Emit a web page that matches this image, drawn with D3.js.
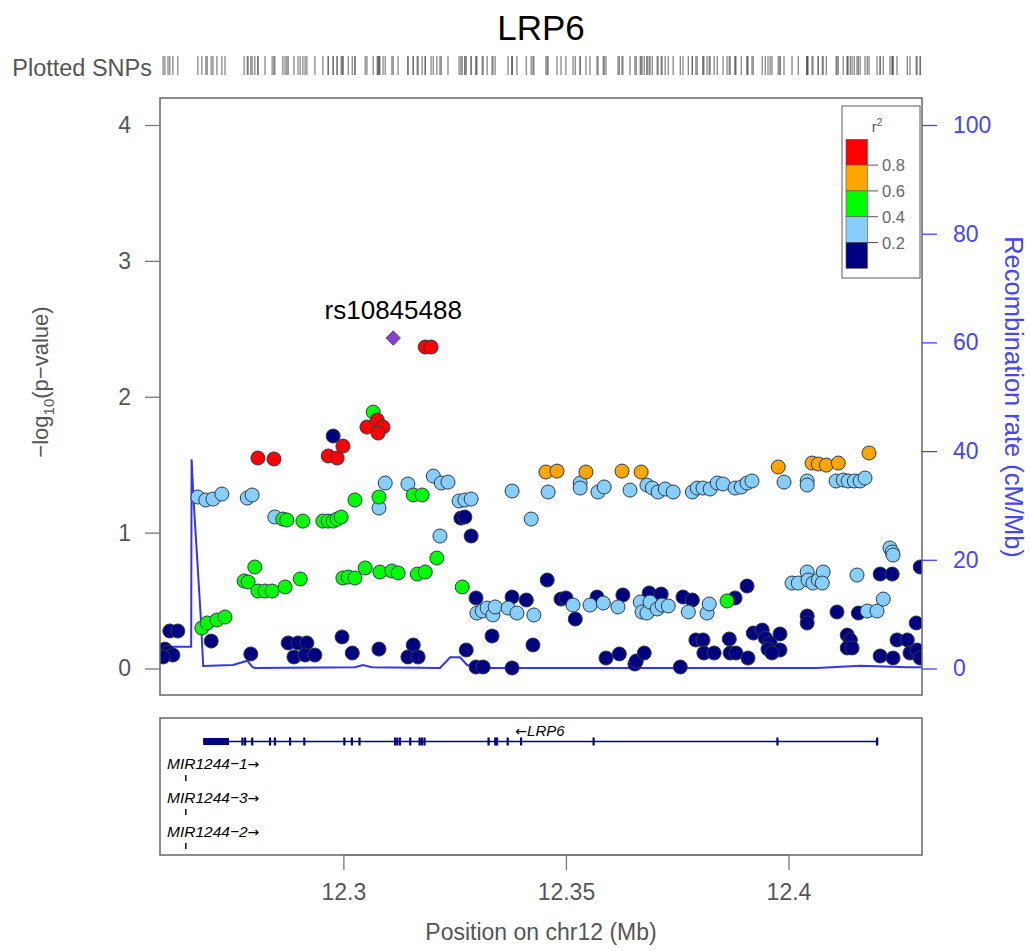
<!DOCTYPE html>
<html>
<head>
<meta charset="utf-8">
<script src="https://cdn.jsdelivr.net/npm/d3@7"></script>
<style>
  body { margin: 0; background: #fff; }
  svg { font-family: "Liberation Sans", Arial, sans-serif; }
</style>
</head>
<body>
<div id="chart"></div>
<script>
// SNPs binned by r2 with the index SNP, [position (Mb), -log10 p]
let ldNavy = [
  [12.2599,0.143],[12.2610,0.276],[12.2628,0.276],[12.2606,0.121],[12.2617,0.099],[12.2595,0.085],
  [12.2703,0.202],[12.2792,0.107],[12.2876,0.188],[12.2898,0.188],[12.2918,0.188],[12.2889,0.085],
  [12.2914,0.099],[12.2936,0.099],[12.2997,0.232],[12.3020,0.114],[12.3080,0.143],[12.3157,0.173],
  [12.3145,0.085],[12.3168,0.085],[12.2977,1.711],[12.3264,1.107],[12.3273,1.115],[12.3287,0.975],
  [12.3298,0.519],[12.3379,0.526],[12.3411,0.504],[12.3458,0.651],[12.3489,0.511],[12.3500,0.519],
  [12.3570,0.526],[12.3628,0.541],[12.3687,0.556],[12.3714,0.548],[12.3763,0.526],[12.3784,0.504],
  [12.3880,0.519],[12.3521,0.364],[12.3334,0.239],[12.3426,0.173],[12.3276,0.136],[12.3298,0.011],
  [12.3314,0.011],[12.3379,0.004],[12.3590,0.077],[12.3620,0.107],[12.3655,0.033],[12.3658,0.055],
  [12.3676,0.114],[12.3757,0.011],[12.3792,0.210],[12.3808,0.210],[12.3810,0.114],[12.3833,0.114],
  [12.3867,0.217],[12.3869,0.114],[12.3882,0.114],[12.3907,0.607],[12.4206,0.695],[12.4233,0.695],
  [12.4296,0.747],[12.4042,0.386],[12.4042,0.335],[12.4109,0.416],[12.4157,0.408],[12.4287,0.335],
  [12.3921,0.261],[12.3941,0.283],[12.3948,0.224],[12.3959,0.188],[12.3981,0.254],[12.3981,0.136],
  [12.3909,0.077],[12.3954,0.143],[12.3963,0.114],[12.4132,0.246],[12.4139,0.210],[12.4132,0.151],
  [12.4143,0.151],[12.4206,0.092],[12.4235,0.077],[12.4244,0.210],[12.4267,0.210],[12.4273,0.114],
  [12.4289,0.136],[12.4296,0.077]
]
let ldLightBlue = [
  [12.2673,1.262],[12.2691,1.240],[12.2707,1.247],[12.2727,1.284],[12.2784,1.255],[12.2795,1.277],
  [12.2846,1.115],[12.3094,1.365],[12.3080,1.181],[12.3145,1.358],[12.3202,1.416],[12.3220,1.365],
  [12.3235,1.372],[12.3217,0.975],[12.3260,1.233],[12.3273,1.240],[12.3287,1.247],[12.3379,1.306],
  [12.3460,1.299],[12.3532,1.365],[12.3532,1.328],[12.3572,1.299],[12.3586,1.336],[12.3644,1.313],
  [12.3682,1.350],[12.3694,1.328],[12.3707,1.299],[12.3723,1.321],[12.3741,1.299],[12.3784,1.299],
  [12.3795,1.328],[12.3808,1.328],[12.3824,1.321],[12.3840,1.365],[12.3853,1.358],[12.3880,1.328],
  [12.3894,1.336],[12.3907,1.365],[12.3918,1.380],[12.3990,1.372],[12.4042,1.380],[12.4042,1.350],
  [12.4107,1.380],[12.4123,1.387],[12.4134,1.380],[12.4148,1.380],[12.4161,1.380],[12.4172,1.402],
  [12.3422,1.100],[12.3300,0.408],[12.3312,0.423],[12.3323,0.445],[12.3336,0.394],[12.3341,0.453],
  [12.3370,0.445],[12.3390,0.408],[12.3428,0.394],[12.3516,0.467],[12.3554,0.467],[12.3584,0.482],
  [12.3617,0.453],[12.3667,0.489],[12.3671,0.416],[12.3682,0.408],[12.3689,0.489],[12.3705,0.438],
  [12.3716,0.467],[12.3730,0.460],[12.3775,0.416],[12.3817,0.408],[12.3822,0.475],[12.4228,0.887],
  [12.4233,0.857],[12.4235,0.835],[12.4008,0.629],[12.4022,0.629],[12.4042,0.710],[12.4044,0.651],
  [12.4055,0.629],[12.4067,0.651],[12.4078,0.710],[12.4076,0.629],[12.4154,0.688],[12.4177,0.423],
  [12.4199,0.423],[12.4213,0.511]
]
let ldGreen = [
  [12.2682,0.298],[12.2694,0.335],[12.2716,0.357],[12.2734,0.379],[12.2777,0.644],[12.2786,0.637],
  [12.2801,0.747],[12.2808,0.570],[12.2824,0.570],[12.2840,0.570],[12.2869,0.600],[12.2903,0.659],
  [12.2864,1.100],[12.2873,1.093],[12.2909,1.085],[12.2954,1.085],[12.2966,1.085],[12.2977,1.085],
  [12.2986,1.100],[12.2995,1.115],[12.3026,1.240],[12.3080,1.262],[12.3157,1.277],[12.3177,1.277],
  [12.2999,0.666],[12.3011,0.673],[12.3026,0.666],[12.3049,0.740],[12.3082,0.710],[12.3109,0.718],
  [12.3123,0.703],[12.3166,0.695],[12.3184,0.710],[12.3210,0.813],[12.3067,1.887],[12.3267,0.600],
  [12.3862,0.497]
]
let ldOrange = [
  [12.3455,1.446],[12.3480,1.453],[12.3545,1.446],[12.3626,1.453],[12.3669,1.446],[12.3977,1.483],
  [12.4053,1.512],[12.4067,1.505],[12.4085,1.497],[12.4112,1.512],[12.4181,1.586]
]
let ldRed = [
  [12.2808,1.549],[12.2844,1.542],[12.2966,1.564],[12.2986,1.549],[12.2999,1.637],[12.3053,1.777],
  [12.3076,1.829],[12.3089,1.777],[12.3078,1.733],[12.3184,2.366],[12.3197,2.366]
]
let indexSnp = { name: "rs10845488", pos: 12.3112, logp: 2.432 }

// recombination rate (cM/Mb)
let recombPos  = [12.2588,12.2658,12.2659,12.2663,12.2680,12.2685,12.2752,12.2784,12.2795,12.2801,
                  12.3026,12.3044,12.3064,12.3217,12.3240,12.3262,12.3278,12.3314,12.4064,12.4161,12.4267,12.4300]
let recombRate = [4.0,4.0,38.5,31.6,8.9,0.46,0.64,1.44,0.33,0.09,
                  0.22,0.64,0.22,0.09,2.06,2.06,0.64,0.09,0.09,0.52,0.22,0.22]

// genes
let lrp6Span = [12.2685, 12.4199]
let lrp6Utr = [12.2685, 12.2743]
let lrp6Exons = [12.2773,12.2779,12.2795,12.2835,12.2846,12.2880,12.2912,12.3002,12.3019,12.3036,
                 12.3116,12.3121,12.3127,12.3150,12.3171,12.3176,12.3182,12.3326,12.3341,12.3345,
                 12.3369,12.3399,12.3562,12.3975,12.4199]
let mirGenes = ["MIR1244\u22121", "MIR1244\u22123", "MIR1244\u22122"]
let mirPos = 12.2646

let ldBreaks = ["0.8", "0.6", "0.4", "0.2"]
let ldColors = ["#ff0000", "#ffa500", "#00ff00", "#87cefa", "#000080"]
let xTicks = [12.3, 12.35, 12.4]
let yTicks = [0, 1, 2, 3, 4]
let rTicks = [0, 20, 40, 60, 80, 100]

const W = 1029, H = 951
const plot = { left: 160, right: 922, top: 98, bottom: 695 }
const genes = { top: 718, bottom: 855 }
const grey = "#555"
const blue = "#4646f5"

let svg = d3.select("#chart").append("svg")
    .attr("width", W)
    .attr("height", H)

let x = d3.scaleLinear().domain([12.2588, 12.4300]).range([plot.left, plot.right])
let y = d3.scaleLinear().domain([0, 4]).range([668.5, 125])
let yr = d3.scaleLinear().domain([0, 100]).range([668.5, 125])

// title
svg.append("text")
    .attr("x", 541).attr("y", 40)
    .attr("text-anchor", "middle")
    .style("font-size", "35px")
    .text("LRP6")

// rug of plotted SNPs
svg.append("text")
    .attr("x", 152).attr("y", 76)
    .attr("text-anchor", "end")
    .attr("fill", grey)
    .style("font-size", "23.5px")
    .text("Plotted SNPs")

let allSnps = [].concat(ldNavy, ldLightBlue, ldGreen, ldOrange, ldRed, [[indexSnp.pos, indexSnp.logp]])

svg.append("g").selectAll("line")
    .data(allSnps)
    .enter()
    .append("line")
    .attr("x1", d => x(d[0])).attr("x2", d => x(d[0]))
    .attr("y1", 56).attr("y2", 75)
    .attr("stroke", "#555")
    .attr("stroke-opacity", 0.7)
    .attr("stroke-width", 1.3)

// clip for main panel
svg.append("clipPath").attr("id", "clip")
    .append("rect")
    .attr("x", plot.left).attr("y", plot.top)
    .attr("width", plot.right - plot.left).attr("height", plot.bottom - plot.top)

// recombination line (under the points)
let recomb = recombPos.map((p, i) => [p, recombRate[i]])
svg.append("path")
    .datum(recomb)
    .attr("clip-path", "url(#clip)")
    .attr("fill", "none")
    .attr("stroke", "#3535f0")
    .attr("stroke-width", 2)
    .attr("d", d3.line().x(d => x(d[0])).y(d => yr(d[1])))

// points
let bins = [ldNavy, ldLightBlue, ldGreen, ldOrange, ldRed]
let binColors = ["#000080", "#87cefa", "#00ff00", "#ffa500", "#ff0000"]
let pts = svg.append("g").attr("clip-path", "url(#clip)")
bins.forEach((bin, i) => {
    pts.selectAll("circle.b" + i)
        .data(bin)
        .enter()
        .append("circle")
        .attr("class", "b" + i)
        .attr("cx", d => x(d[0]))
        .attr("cy", d => y(d[1]))
        .attr("r", 7)
        .attr("fill", binColors[i])
        .attr("stroke", "#2b3a4a")
        .attr("stroke-width", 1)
})

pts.append("path")
    .attr("d", d3.symbol(d3.symbolSquare, 105)())
    .attr("transform", "translate(" + x(indexSnp.pos) + "," + y(indexSnp.logp) + ") rotate(45)")
    .attr("fill", "#8a3fd6")
    .attr("stroke", "#444")
    .attr("stroke-width", 0.8)

svg.append("text")
    .attr("x", x(indexSnp.pos)).attr("y", y(indexSnp.logp) - 19)
    .attr("text-anchor", "middle")
    .style("font-size", "26px")
    .text(indexSnp.name)

// panel frame
svg.append("rect")
    .attr("x", plot.left).attr("y", plot.top)
    .attr("width", plot.right - plot.left).attr("height", plot.bottom - plot.top)
    .attr("fill", "none").attr("stroke", "#666").attr("stroke-width", 1.5)

// left axis
let yAxis = svg.append("g")
    .attr("transform", "translate(" + plot.left + ",0)")
    .call(d3.axisLeft(y).tickValues(yTicks).tickFormat(d3.format("d")).tickSize(15).tickPadding(14))
yAxis.select(".domain").remove()
yAxis.selectAll("line").attr("stroke", "#777").attr("stroke-width", 1.3)
yAxis.selectAll("text").attr("fill", grey).style("font-size", "23px")

svg.append("text")
    .attr("transform", "translate(48,382) rotate(-90)")
    .attr("text-anchor", "middle")
    .attr("fill", grey)
    .style("font-size", "22px")
    .html("\u2212log<tspan dy='6' font-size='15px'>10</tspan><tspan dy='-6'>(p\u2212value)</tspan>")

// right axis
let rAxis = svg.append("g")
    .attr("transform", "translate(" + plot.right + ",0)")
    .call(d3.axisRight(yr).tickValues(rTicks).tickSize(15).tickPadding(16))
rAxis.select(".domain").remove()
rAxis.selectAll("line").attr("stroke", blue).attr("stroke-width", 1.3)
rAxis.selectAll("text").attr("fill", blue).style("font-size", "23px")

svg.append("text")
    .attr("transform", "translate(1005,397) rotate(90)")
    .attr("text-anchor", "middle")
    .attr("fill", blue)
    .style("font-size", "25.5px")
    .text("Recombination rate (cM/Mb)")

// legend
let lg = svg.append("g")
lg.append("rect")
    .attr("x", 842).attr("y", 106).attr("width", 78).attr("height", 172)
    .attr("fill", "#fff").attr("stroke", "#777").attr("stroke-width", 1.2)
lg.append("text")
    .attr("x", 877).attr("y", 132)
    .attr("text-anchor", "middle").attr("fill", grey)
    .style("font-size", "15px")
    .html("r<tspan dy='-6' font-size='10px'>2</tspan>")
let bandH = 25.8
lg.selectAll("rect.band")
    .data(ldColors)
    .enter()
    .append("rect")
    .attr("class", "band")
    .attr("x", 846).attr("y", (d, i) => 139.3 + i * bandH)
    .attr("width", 21.5).attr("height", bandH)
    .attr("fill", d => d)
    .attr("stroke", "#555").attr("stroke-width", 0.6)
lg.selectAll("line.lt")
    .data(ldBreaks)
    .enter()
    .append("line")
    .attr("class", "lt")
    .attr("x1", 867.5).attr("x2", 878)
    .attr("y1", (d, i) => 139.3 + (i + 1) * bandH)
    .attr("y2", (d, i) => 139.3 + (i + 1) * bandH)
    .attr("stroke", "#555").attr("stroke-width", 1)
lg.selectAll("text.lv")
    .data(ldBreaks)
    .enter()
    .append("text")
    .attr("class", "lv")
    .attr("x", 882).attr("y", (d, i) => 139.3 + (i + 1) * bandH + 6)
    .attr("fill", "#666")
    .style("font-size", "16.5px")
    .text(d => d)

// gene panel
svg.append("rect")
    .attr("x", plot.left).attr("y", genes.top)
    .attr("width", plot.right - plot.left).attr("height", genes.bottom - genes.top)
    .attr("fill", "none").attr("stroke", "#666").attr("stroke-width", 1.5)

let geneY = 741.5
let gcol = "#000080"
svg.append("line")
    .attr("x1", x(lrp6Span[0])).attr("x2", x(lrp6Span[1]))
    .attr("y1", geneY).attr("y2", geneY)
    .attr("stroke", gcol).attr("stroke-width", 1.5)
svg.append("rect")
    .attr("x", x(lrp6Utr[0])).attr("y", geneY - 3.5)
    .attr("width", x(lrp6Utr[1]) - x(lrp6Utr[0])).attr("height", 7)
    .attr("fill", gcol)
svg.selectAll("rect.exon")
    .data(lrp6Exons)
    .enter()
    .append("rect")
    .attr("class", "exon")
    .attr("x", d => x(d) - 1).attr("y", geneY - 4)
    .attr("width", 2.2).attr("height", 8)
    .attr("fill", gcol)
svg.append("text")
    .attr("x", 540).attr("y", 736)
    .attr("text-anchor", "middle")
    .style("font-size", "15px")
    .style("font-style", "italic")
    .html("<tspan font-family='DejaVu Sans' font-style='normal' font-size='14px'>\u2190</tspan>LRP6")

let mirRows = [778, 812, 846]
mirGenes.forEach((g, i) => {
    svg.append("line")
        .attr("x1", x(mirPos)).attr("x2", x(mirPos))
        .attr("y1", mirRows[i] - 3).attr("y2", mirRows[i] + 3)
        .attr("stroke", gcol).attr("stroke-width", 1.5)
    svg.append("text")
        .attr("x", 167).attr("y", mirRows[i] - 9)
        .style("font-size", "15.5px")
        .style("font-style", "italic")
        .html(g + "<tspan font-family='DejaVu Sans' font-style='normal' font-size='14px'>\u2192</tspan>")
})

// x axis
let xAxis = svg.append("g")
    .attr("transform", "translate(0," + genes.bottom + ")")
    .call(d3.axisBottom(x).tickValues(xTicks).tickFormat(d3.format("")).tickSize(15).tickPadding(14).tickSizeOuter(0))
xAxis.select(".domain")
    .attr("d", "M" + x(xTicks[0]) + ",0H" + x(xTicks[xTicks.length - 1]))
    .attr("stroke", "#777").attr("stroke-width", 1.3)
xAxis.selectAll("line").attr("stroke", "#777").attr("stroke-width", 1.3)
xAxis.selectAll("text").attr("fill", grey).style("font-size", "23px")

svg.append("text")
    .attr("x", 541).attr("y", 940)
    .attr("text-anchor", "middle")
    .attr("fill", grey)
    .style("font-size", "23px")
    .text("Position on chr12 (Mb)")
</script>
</body>
</html>
